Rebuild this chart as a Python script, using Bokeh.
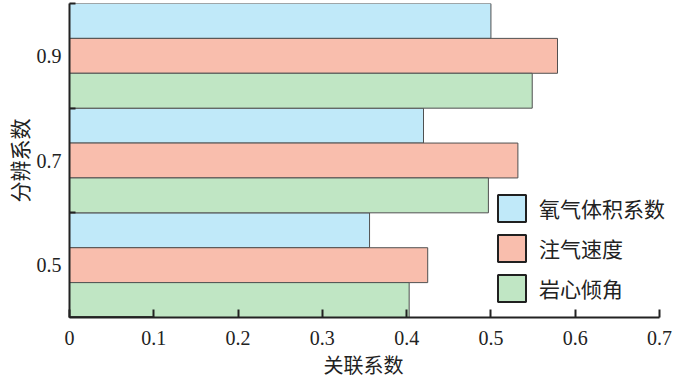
from bokeh.plotting import figure
from bokeh.models import ColumnDataSource, FixedTicker, Range1d, Legend, LegendItem, Title
from bokeh.embed import file_html
from bokeh.resources import INLINE

# data
categories = ["0.5", "0.7", "0.9"]
series_names = ["氧气体积系数", "注气速度", "岩心倾角"]
oxygen = [0.356, 0.420, 0.500]
inj_speed = [0.425, 0.532, 0.579]
core_angle = [0.403, 0.497, 0.549]
x_ticks = [0, 0.1, 0.2, 0.3, 0.4, 0.5, 0.6, 0.7]
x_tick_labels = ["0", "0.1", "0.2", "0.3", "0.4", "0.5", "0.6", "0.7"]

colors = ["#c0e9f9", "#f9bead", "#c0e6c4"]
series_vals = [oxygen, inj_speed, core_angle]
offsets = [5 / 6, 0.5, 1 / 6]
bar_h = 1 / 3

serif = "Liberation Serif"
cjk = "Noto Sans CJK SC"

# axis spans 0..0.7 over 590px; frame extends 25px further so the legend text is not clipped
axis_px = 590
extra_px = 25
x_end = 0.7 * (axis_px + extra_px) / axis_px

p = figure(frame_width=axis_px + extra_px, frame_height=314, output_backend="svg", toolbar_location=None,
           x_range=Range1d(0, x_end), y_range=Range1d(0, 3),
           min_border_left=50, min_border_right=10, min_border_top=3, min_border_bottom=58)
p.outline_line_color = None
p.xgrid.visible = False
p.ygrid.visible = False

for vals, col, off in zip(series_vals, colors, offsets):
    ys = [i + off for i in range(len(categories))]
    src = ColumnDataSource(dict(y=ys, right=vals))
    p.hbar(y="y", right="right", left=0, height=bar_h, source=src,
           fill_color=col, line_color="#505050", line_width=1)

# legend with dummy renderers (thicker outlines), placed outside the visible range
items = []
for name, col in zip(series_names, colors):
    r = p.hbar(y=[-5], right=[0.1], left=0, height=0.3, fill_color=col,
               line_color="#202020", line_width=2)
    items.append(LegendItem(label=name, renderers=[r]))
legend = Legend(items=items, location=(425, 12), glyph_width=35, glyph_height=34,
                spacing=6, padding=0, margin=0, label_standoff=10,
                label_text_font=cjk, label_text_font_size="21px", label_text_color="#222222",
                border_line_color=None, background_fill_alpha=0)
p.add_layout(legend, "center")

# x axis
xa = p.xaxis[0]
xa.bounds = (0, 0.7)
xa.ticker = FixedTicker(ticks=x_ticks)
xa.major_label_overrides = {t: l for t, l in zip(x_ticks, x_tick_labels)}
xa.axis_line_width = 2
xa.axis_line_color = "#222222"
xa.major_tick_in = 8
xa.major_tick_out = 0
xa.major_tick_line_width = 2
xa.major_tick_line_color = "#222222"
xa.minor_tick_line_color = None
xa.major_label_text_font = serif
xa.major_label_text_font_size = "20px"
xa.major_label_text_color = "#222222"
xa.major_label_standoff = 13

# x axis title, centred under the 0..0.7 axis span
xtitle = Title(text="关联系数", align="left", offset=254, text_font=cjk, text_font_size="20px",
               text_font_style="normal", text_color="#222222", standoff=0)
p.add_layout(xtitle, "below")

# y axis
ya = p.yaxis[0]
ya.ticker = FixedTicker(ticks=[i + 0.5 for i in range(len(categories))], minor_ticks=[1, 2, 3])
ya.major_label_overrides = {i + 0.5: c for i, c in enumerate(categories)}
ya.axis_line_width = 2
ya.axis_line_color = "#222222"
ya.major_tick_line_color = None
ya.minor_tick_in = 6
ya.minor_tick_out = 0
ya.minor_tick_line_width = 2
ya.minor_tick_line_color = "#222222"
ya.major_label_text_font = serif
ya.major_label_text_font_size = "20px"
ya.major_label_text_color = "#222222"
ya.major_label_standoff = 2
ya.axis_label = "分辨系数"
ya.axis_label_text_font = cjk
ya.axis_label_text_font_size = "21px"
ya.axis_label_text_font_style = "normal"
ya.axis_label_text_color = "#222222"
ya.axis_label_standoff = 0

open("out.html", "w").write(file_html(p, INLINE))
